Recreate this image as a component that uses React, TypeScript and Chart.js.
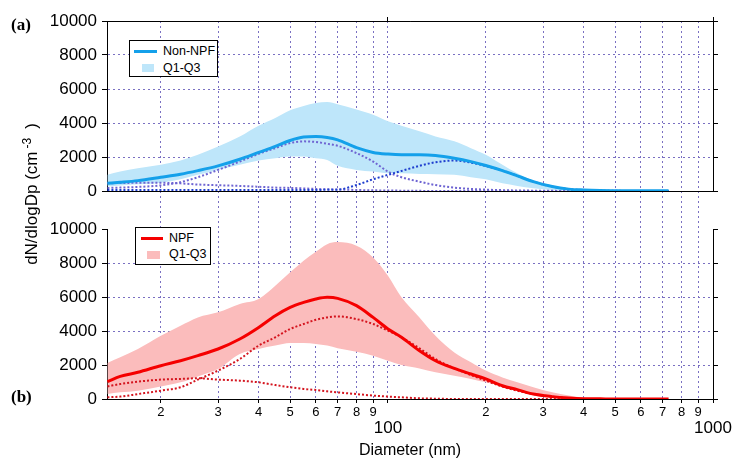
import { useEffect, useRef } from 'react'
import { Chart, registerables } from 'chart.js'

Chart.register(...registerables)

const FONT = 'Arial, "Liberation Sans", sans-serif'

// diamètres communs (nm)
const diam = [13.7, 15, 17, 20, 23, 26, 30, 35, 40, 45, 50, 55, 60, 65, 70, 80, 90, 100, 110, 125, 140, 160, 180, 200, 225, 250, 280, 320, 360, 400, 450, 500, 600, 730]

// (a) Non-NPF
const nonNpfMedian = [450, 510, 610, 810, 990, 1200, 1480, 1870, 2270, 2620, 2970, 3170, 3200, 3150, 3010, 2550, 2270, 2170, 2130, 2130, 2090, 1930, 1730, 1500, 1200, 890, 550, 260, 110, 60, 30, 20, 10, 10]
const nonNpfQ3 = [950, 1140, 1340, 1540, 1790, 2130, 2620, 3210, 3840, 4290, 4750, 5000, 5180, 5230, 5100, 4790, 4490, 4100, 3840, 3510, 3210, 2920, 2520, 2130, 1540, 1040, 610, 300, 150, 70, 20, 0, 0, 0]
const nonNpfQ1 = [260, 320, 390, 490, 690, 950, 1240, 1540, 1790, 1930, 2030, 2030, 1930, 1830, 1480, 1240, 1140, 1040, 1040, 1000, 990, 950, 810, 690, 450, 300, 160, 60, 20, 0, 0, 0, 0, 0]
const nonNpfNuc = [450, 470, 480, 480, 450, 380, 340, 300, 250, 200, 180, 150, 120, 100, 90, 60, 40, 30, 20, 10, 0, 0, 0, 0, 0, 0, 0, 0, 0, 0, 0, 0, 0, 0]
const nonNpfAit = [180, 200, 240, 330, 520, 810, 1240, 1730, 2190, 2520, 2820, 2920, 2880, 2780, 2660, 2230, 1730, 1140, 810, 550, 350, 200, 120, 80, 50, 30, 20, 10, 0, 0, 0, 0, 0, 0]
const nonNpfAcc = [60, 60, 60, 60, 60, 60, 60, 60, 60, 60, 60, 60, 60, 70, 80, 350, 690, 950, 1180, 1480, 1690, 1790, 1670, 1470, 1200, 890, 550, 260, 110, 50, 20, 10, 0, 0]

// (b) NPF
const npfMedian = [1020, 1330, 1570, 1960, 2250, 2550, 2940, 3530, 4210, 4900, 5390, 5680, 5880, 5980, 5920, 5490, 4800, 4120, 3630, 2840, 2250, 1800, 1470, 1180, 780, 550, 290, 140, 60, 20, 10, 0, 0, 0]
const npfQ3 = [2120, 2450, 2940, 3720, 4310, 4800, 5100, 5590, 5880, 6660, 7450, 8130, 8660, 9110, 9230, 9020, 8330, 7250, 5980, 4800, 3720, 2740, 2160, 1670, 1270, 980, 690, 390, 200, 80, 20, 0, 0, 0]
const npfQ1 = [290, 390, 490, 730, 980, 1330, 1760, 2650, 2940, 3140, 3290, 3290, 3230, 3140, 2980, 2780, 2550, 2250, 2000, 1800, 1570, 1370, 1180, 980, 740, 530, 330, 160, 60, 0, 0, 0, 0, 0]
const npfAit = [100, 140, 290, 490, 690, 1140, 1670, 2350, 3140, 3630, 4120, 4410, 4660, 4800, 4860, 4700, 4410, 4020, 3630, 2980, 2350, 1800, 1410, 1080, 730, 490, 290, 140, 40, 0, 0, 0, 0, 0]
const npfNuc = [740, 880, 1020, 1140, 1180, 1220, 1140, 1080, 980, 820, 690, 590, 530, 450, 390, 290, 200, 140, 100, 40, 20, 0, 0, 0, 0, 0, 0, 0, 0, 0, 0, 0, 0, 0]

const xTicks = [20, 30, 40, 50, 60, 70, 80, 90, 100, 200, 300, 400, 500, 600, 700, 800, 900, 1000]
const xTickLabels: (string | string[])[] = ['2', '3', '4', '5', '6', '7', '8', '9', ['', '100'], '2', '3', '4', '5', '6', '7', '8', '9', ['', '1000']]

const X_MIN = 13.66
const X_MAX = 1000

const gridColor = '#7a70c2'
const GRID_DASH = [2, 3]
const blue = '#14a0ea'
const blueBand = '#bee6fa'
const purpleDot = '#6e64d2'
const darkBlueDot = '#1f3fcf'
const red = '#f50000'
const redBand = '#fbbcbc'
const redDot = '#d4141e'

const pts = (ys: number[]) => diam.map((d, i) => ({ x: d, y: ys[i] }))

const line = (ys: number[], color: string, width: number, yAxisID: string, dash: number[] = []) => ({
  data: pts(ys), borderColor: color, borderWidth: width, borderDash: dash,
  pointRadius: 0, cubicInterpolationMode: 'monotone' as const, fill: false, yAxisID,
})

const band = (ys: number[], color: string, yAxisID: string, fill: any) => ({
  data: pts(ys), borderColor: 'rgba(0,0,0,0)', borderWidth: 0, backgroundColor: color,
  pointRadius: 0, cubicInterpolationMode: 'monotone' as const, fill, yAxisID,
})

const isMajor = (v: number) => v === 100 || v === 1000

function leftPanel(weight: number, topLine: boolean) {
  return {
    type: 'linear', position: 'left', stack: 'left', stackWeight: 170, weight,
    min: 0, max: 10000,
    ticks: {
      stepSize: 2000, autoSkip: false, color: '#000', padding: 5,
      font: { family: FONT, size: 17 }, callback: (v: any) => String(v),
    },
    grid: {
      color: (c: any) => {
        const v = c.tick?.value
        if (v === 0) return '#000'
        if (v === 10000) return topLine ? '#000' : 'rgba(0,0,0,0)'
        return gridColor
      },
      lineWidth: 1, tickColor: '#000', tickLength: 5,
    },
    border: {
      display: true, color: '#000',
      dash: (c: any) => (c.tick && c.tick.value > 0 && c.tick.value < 10000 ? GRID_DASH : []),
    },
    afterFit: (s: any) => { s.width = 107 },
  }
}

function rightPanel(weight: number) {
  return {
    type: 'linear', position: 'right', stack: 'right', stackWeight: 170, weight,
    min: 0, max: 10000,
    ticks: { display: false, stepSize: 2000, autoSkip: false },
    grid: { drawOnChartArea: false, tickColor: '#000', tickLength: 5 },
    border: { display: true, color: '#000' },
    afterFit: (s: any) => { s.width = 23 },
  }
}

function gap(position: string, weight: number, w: number) {
  return {
    type: 'linear', position, stack: position, stackWeight: 38, weight,
    min: 0, max: 1,
    ticks: { display: false },
    grid: { display: false },
    border: { display: false },
    afterFit: (s: any) => { s.width = w },
  }
}

const setXTicks = (s: any) => { s.ticks = xTicks.map(v => ({ value: v })) }

export default function App() {
  const ref = useRef<HTMLCanvasElement>(null)

  useEffect(() => {
    if (!ref.current) return
    const chart = new Chart(ref.current, {
      type: 'line',
      data: {
        datasets: [
          line(nonNpfMedian, blue, 3, 'ya'),
          line(nonNpfAcc, darkBlueDot, 2, 'ya', [2, 2]),
          line(nonNpfAit, purpleDot, 2, 'ya', [2, 2]),
          line(nonNpfNuc, purpleDot, 2, 'ya', [2, 2]),
          band(nonNpfQ3, blueBand, 'ya', '+1'),
          band(nonNpfQ1, blueBand, 'ya', false),
          line(npfMedian, red, 3, 'yb'),
          line(npfAit, redDot, 2, 'yb', [2, 2]),
          line(npfNuc, redDot, 2, 'yb', [2, 2]),
          band(npfQ3, redBand, 'yb', '+1'),
          band(npfQ1, redBand, 'yb', false),
        ] as any,
      },
      options: {
        responsive: false,
        animation: false,
        layout: { padding: 0 },
        plugins: { legend: { display: false }, tooltip: { enabled: false } },
        scales: {
          x: {
            type: 'logarithmic', position: 'bottom', min: X_MIN, max: X_MAX,
            afterBuildTicks: setXTicks,
            ticks: {
              autoSkip: false, maxRotation: 0, color: '#000', padding: 1,
              font: (c: any) => (c.tick && isMajor(c.tick.value)
                ? { family: FONT, size: 17, lineHeight: '16px' }
                : { family: FONT, size: 13, lineHeight: '16px' }),
              callback: (v: any) => xTickLabels[xTicks.indexOf(Number(v))] ?? '',
            },
            grid: {
              color: (c: any) => (c.tick?.value === 1000 ? 'rgba(0,0,0,0)' : gridColor),
              lineWidth: 1, tickColor: '#000', tickLength: 4,
            },
            border: { display: true, color: '#000', dash: (c: any) => (c.tick ? GRID_DASH : []) },
            title: { display: true, text: 'Diameter (nm)', color: '#000', font: { family: FONT, size: 16 }, padding: { top: 0, bottom: 1 } },
            afterFit: (s: any) => { s.height = 62 },
          },
          xt: {
            type: 'logarithmic', position: 'top', min: X_MIN, max: X_MAX,
            afterBuildTicks: setXTicks,
            ticks: { display: false },
            grid: {
              drawOnChartArea: false, tickLength: 4,
              tickColor: (c: any) => (c.tick && isMajor(c.tick.value) ? '#000' : 'rgba(0,0,0,0)'),
            },
            border: { display: true, color: '#000' },
            afterFit: (s: any) => { s.height = 21 },
          },
          ya: leftPanel(3, true),
          yg: gap('left', 2, 107),
          yb: leftPanel(1, false),
          yar: rightPanel(1),
          ygr: gap('right', 2, 23),
          ybr: rightPanel(3),
        } as any,
      },
    })
    return () => chart.destroy()
  }, [])

  const legendText = { position: 'absolute' as const, left: 33, fontSize: 12.5, lineHeight: '15px', color: '#000', whiteSpace: 'nowrap' as const }
  const panelLabel = { position: 'absolute' as const, left: 11, fontFamily: '"Times New Roman", "Liberation Serif", serif', fontWeight: 700, fontSize: 17, lineHeight: '20px' }

  return (
    <div style={{ position: 'fixed', left: 0, top: 0, width: 736, height: 461, background: '#fff', fontFamily: FONT, overflow: 'hidden' }}>
      <canvas ref={ref} width={736} height={461} style={{ position: 'absolute', left: 0, top: 0 }} role="img" aria-label="Distributions granulométriques NPF / Non-NPF" />

      <div style={{ ...panelLabel, top: 15 }}>(a)</div>
      <div style={{ ...panelLabel, top: 387 }}>(b)</div>

      <div style={{ position: 'absolute', left: 31, top: 194, transform: 'translate(-50%, -50%) rotate(-90deg)', fontSize: 17, whiteSpace: 'nowrap', color: '#000' }}>
        dN/dlogDp (cm<sup style={{ fontSize: 12, marginLeft: 3, marginRight: 9 }}>-3</sup>)
      </div>

      <div style={{ position: 'absolute', left: 129, top: 40, width: 89, height: 37, boxSizing: 'border-box', border: '1px solid #000', background: '#fff' }}>
        <div style={{ position: 'absolute', left: 4, top: 9, width: 23, height: 3, background: blue }} />
        <div style={{ ...legendText, top: 3 }}>Non-NPF</div>
        <div style={{ position: 'absolute', left: 12, top: 23, width: 12, height: 8, background: blueBand }} />
        <div style={{ ...legendText, top: 20 }}>Q1-Q3</div>
      </div>

      <div style={{ position: 'absolute', left: 135, top: 227, width: 76, height: 38, boxSizing: 'border-box', border: '1px solid #000', background: '#fff' }}>
        <div style={{ position: 'absolute', left: 5, top: 9, width: 22, height: 3, background: red }} />
        <div style={{ ...legendText, top: 3 }}>NPF</div>
        <div style={{ position: 'absolute', left: 11, top: 23, width: 13, height: 8, background: redBand }} />
        <div style={{ ...legendText, top: 19 }}>Q1-Q3</div>
      </div>
    </div>
  )
}
